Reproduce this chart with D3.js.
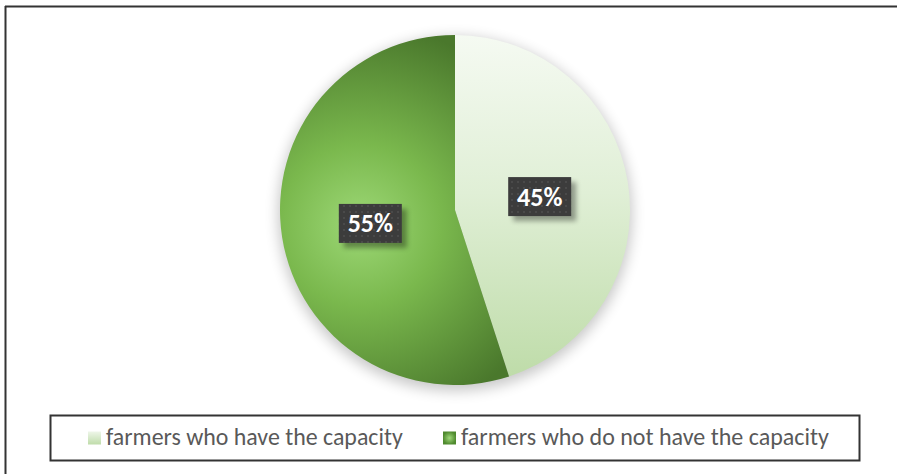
<!DOCTYPE html>
<html><head><meta charset="utf-8">
<script src="https://cdn.jsdelivr.net/npm/d3@7"></script>
<style>body{margin:0;background:#fff}svg{display:block}</style>
</head><body>
<svg id="c" width="897" height="474"></svg>
<script>
const categories = ["farmers who have the capacity", "farmers who do not have the capacity"];
const values = [45, 55];
const labels = ["45%", "55%"];

const svg = d3.select("#c");
const W = 897, H = 474;
const cx = 455, cy = 210, R = 175;
const FONT = "Carlito, Lato, 'Open Sans', sans-serif";
const defs = svg.append("defs");

// gradients
const g1 = defs.append("linearGradient").attr("id","g1").attr("gradientUnits","userSpaceOnUse")
  .attr("x1",0).attr("y1",-R).attr("x2",0).attr("y2",R);
g1.append("stop").attr("offset","0%").attr("stop-color","#f5faf2");
g1.append("stop").attr("offset","45%").attr("stop-color","#e0efd6");
g1.append("stop").attr("offset","100%").attr("stop-color","#bddba7");
const g2 = defs.append("radialGradient").attr("id","g2").attr("gradientUnits","userSpaceOnUse")
  .attr("cx",-95).attr("cy",15).attr("r",R*1.15);
g2.append("stop").attr("offset","0%").attr("stop-color","#9dd876");
g2.append("stop").attr("offset","40%").attr("stop-color","#7ab84d");
g2.append("stop").attr("offset","100%").attr("stop-color","#4a782c");
const gl1 = defs.append("linearGradient").attr("id","gl1").attr("x1",0).attr("y1",0).attr("x2",0).attr("y2",1);
gl1.append("stop").attr("offset","0%").attr("stop-color","#eef6e9");
gl1.append("stop").attr("offset","100%").attr("stop-color","#bfdcaa");
const gl2 = defs.append("radialGradient").attr("id","gl2");
gl2.append("stop").attr("offset","0%").attr("stop-color","#a0d97a");
gl2.append("stop").attr("offset","100%").attr("stop-color","#4f8a2e");
const sh = defs.append("filter").attr("id","sh").attr("x","-20%").attr("y","-20%").attr("width","140%").attr("height","140%");
sh.append("feGaussianBlur").attr("stdDeviation",7);
const sh2 = defs.append("filter").attr("id","sh2").attr("x","-30%").attr("y","-30%").attr("width","160%").attr("height","160%");
sh2.append("feGaussianBlur").attr("stdDeviation",2.5);
const pat = defs.append("pattern").attr("id","dots").attr("patternUnits","userSpaceOnUse").attr("width",6).attr("height",6);
pat.append("rect").attr("width",6).attr("height",6).attr("fill","#3c3c3c");
pat.append("rect").attr("x",1).attr("y",1).attr("width",2).attr("height",2).attr("fill","#4a4a4a");

// frame (top and left lines)
svg.append("line").attr("x1",5).attr("y1",6.5).attr("x2",W).attr("y2",6.5).attr("stroke","#333").attr("stroke-width",2);
svg.append("line").attr("x1",5.5).attr("y1",6).attr("x2",5.5).attr("y2",H).attr("stroke","#333").attr("stroke-width",2);

// pie
const pie = d3.pie().sort(null).value(d=>d)(values);
const arc = d3.arc().innerRadius(0).outerRadius(R);
const pg = svg.append("g").attr("transform",`translate(${cx},${cy})`);
pg.append("circle").attr("r",R+2).attr("cy",4).attr("fill","#000").attr("opacity",0.22).attr("filter","url(#sh)");
pg.selectAll("path.s").data(pie).join("path").attr("class","s")
  .attr("d",arc)
  .attr("fill",(d,i)=> i===0 ? "url(#g1)" : "url(#g2)");

// data labels
const labelArc = d3.arc().innerRadius(R*0.49).outerRadius(R*0.49);
pie.forEach((d,i)=>{
  const [lx,ly] = labelArc.centroid(d);
  const x = cx + lx, y = cy + ly;
  const bw = 63, bh = 39;
  svg.append("rect").attr("x",x-bw/2+5).attr("y",y-bh/2+5).attr("width",bw).attr("height",bh)
    .attr("fill","#000").attr("opacity",0.35).attr("filter","url(#sh2)");
  svg.append("rect").attr("x",x-bw/2).attr("y",y-bh/2).attr("width",bw).attr("height",bh).attr("fill","url(#dots)");
  svg.append("text").attr("x",x).attr("y",y+9).attr("text-anchor","middle")
    .attr("font-family",FONT).attr("font-weight","bold")
    .attr("font-size",26).attr("fill","#fff").text(labels[i]);
});

// legend
svg.append("rect").attr("x",50.5).attr("y",415.5).attr("width",809).attr("height",45)
  .attr("fill","#fff").attr("stroke","#333").attr("stroke-width",2);
const lx0 = [88, 443];
const tw = [297, 368];
categories.forEach((c,i)=>{
  svg.append("rect").attr("x",lx0[i]).attr("y",431.5).attr("width",13).attr("height",13)
    .attr("fill", i===0 ? "url(#gl1)" : "url(#gl2)");
  const t = svg.append("text").attr("x",lx0[i]+18).attr("y",445)
    .attr("font-family",FONT).attr("font-size",20)
    .attr("fill","#595959").text(c);
  const w = t.node().getComputedTextLength();
  t.attr("font-size", 20*tw[i]/w);
});
</script>
</body></html>
